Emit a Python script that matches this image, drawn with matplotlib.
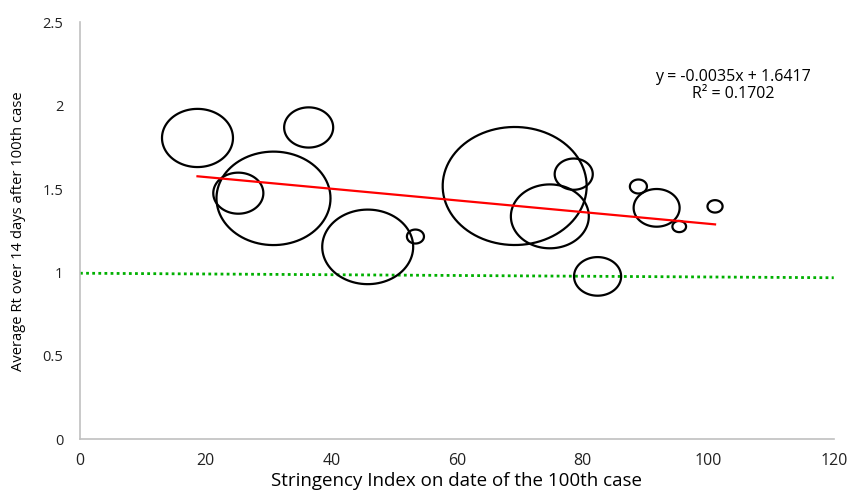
import numpy as np
import matplotlib
matplotlib.use('Agg')
import matplotlib.pyplot as plt
from matplotlib.path import Path

plt.rcParams['font.family'] = ['Open Sans', 'DejaVu Sans']

# stringency index vs average Rt, bubble size = relative case load
stringency = [18.7, 36.4, 25.2, 30.8, 45.8, 53.4, 69.2, 78.6, 74.8, 88.9, 91.8, 95.4, 101.1, 82.4]
avg_rt = [1.806, 1.869, 1.475, 1.444, 1.153, 1.215, 1.518, 1.589, 1.336, 1.515, 1.387, 1.275, 1.396, 0.976]
bubble_size = [24.3, 11.6, 12.1, 62.7, 39.9, 1.4, 100.0, 7.0, 29.3, 1.4, 10.2, 0.9, 1.1, 10.7]

# linear trendline as reported
slope = -0.0035
intercept = 1.6417
r2 = 0.1702

# reference line near Rt = 1
ref_x = [0, 120]
ref_y = [0.995, 0.968]

xticks = [0, 20, 40, 60, 80, 100, 120]
yticks = [0, 0.5, 1, 1.5, 2, 2.5]

fig = plt.figure(figsize=(8.56, 4.94), dpi=100)
ax = fig.add_axes([0.0935, 0.111, 0.8805, 0.844])

# slightly wide ellipse marker, the original is stretched horizontally
t = np.linspace(0, 2 * np.pi, 100)
ell = Path(np.column_stack([np.cos(t), np.sin(t) / 1.22]), closed=True)

diam = 144 * 0.72 * np.sqrt(np.array(bubble_size) / 100.0)
ax.scatter(stringency, avg_rt, s=diam ** 2, marker=ell, facecolors='none',
           edgecolors='black', linewidths=1.6, zorder=3)

ax.plot(ref_x, ref_y, color='#00b000', linestyle=(0, (1, 1.2)), linewidth=2, zorder=2)

tx = np.array([min(stringency), max(stringency)])
ax.plot(tx, slope * tx + intercept, color='red', linewidth=1.6, zorder=4)

ax.text(104, 2.17, 'y = %.4fx + %.4f' % (slope, intercept), ha='center', va='center', fontsize=11.5)
ax.text(104, 2.07, 'R² = %.4f' % r2, ha='center', va='center', fontsize=11.5)

ax.set_xlim(0, 120)
ax.set_ylim(0, 2.5)
ax.set_xticks(xticks)
ax.set_yticks(yticks)
ax.set_xticklabels([str(v) for v in xticks])
ax.set_yticklabels(['0', '0.5', '1', '1.5', '2', '2.5'])
ax.tick_params(length=0, colors='#222222')
ax.tick_params(axis='x', labelsize=11.5, pad=10)
ax.tick_params(axis='y', labelsize=10.5, pad=12)

for side in ['top', 'right']:
    ax.spines[side].set_visible(False)
for side in ['left', 'bottom']:
    ax.spines[side].set_color('#c0c0c0')
    ax.spines[side].set_linewidth(1.2)

ax.set_xlabel('Stringency Index on date of the 100th case', fontsize=13.5, labelpad=2)
ax.set_ylabel('Average Rt over 14 days after 100th case', fontsize=10.6, labelpad=12)

fig.savefig('out.png', dpi=100)
